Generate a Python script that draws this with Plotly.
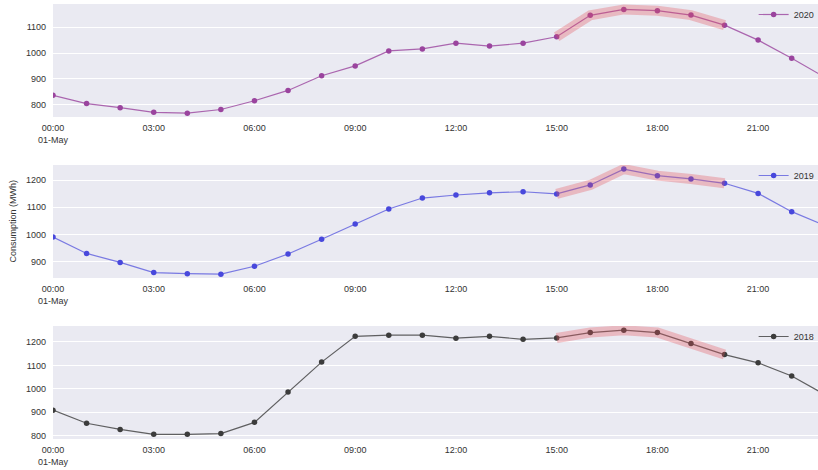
import plotly.graph_objects as go

hours = list(range(24))
vals_2020 = [836, 804, 788, 770, 767, 781, 815, 855, 912, 950, 1008, 1016, 1038, 1027, 1038, 1063,
             1146, 1169, 1164, 1147, 1108, 1050, 980, 905]
vals_2019 = [991, 931, 898, 861, 857, 855, 884, 929, 983, 1039, 1094, 1134, 1145, 1153, 1157, 1149,
             1182, 1240, 1216, 1204, 1188, 1151, 1084, 1033]
vals_2018 = [909, 853, 827, 806, 806, 809, 857, 987, 1114, 1224, 1229, 1229, 1216, 1224, 1211, 1217,
             1240, 1250, 1240, 1193, 1146, 1111, 1055, 974]
years = ["2020", "2019", "2018"]
series = [vals_2020, vals_2019, vals_2018]
colors = ["#9a449e", "#4848dc", "#3c3c3c"]
line_colors = ["rgba(154,68,158,0.8)", "rgba(72,72,220,0.7)", "rgba(60,60,60,0.8)"]
peak_start, peak_end = 15, 20
tick_hours = [0, 3, 6, 9, 12, 15, 18, 21]
tick_text = ["00:00<br>01-May", "03:00", "06:00", "09:00", "12:00", "15:00", "18:00", "21:00"]
y_ranges = [[752, 1190], [841, 1255], [786, 1268]]
y_ticks = [[800, 900, 1000, 1100], [900, 1000, 1100, 1200], [800, 900, 1000, 1100, 1200]]
y_label = "Consumption (MWh)"

W, H = 818, 470
panels_px = [(4, 117), (165, 278), (326, 439)]

fig = go.Figure()
layout = dict(width=W, height=H, margin=dict(l=0, r=0, t=0, b=0, autoexpand=False),
              paper_bgcolor="white", plot_bgcolor="#EAEAF2",
              font=dict(family="Arial, Liberation Sans, sans-serif", size=9, color="#333333"),
              showlegend=True)

for i, (yr, vals, col) in enumerate(zip(years, series, colors)):
    n = "" if i == 0 else str(i + 1)
    xa, ya = "x" + n, "y" + n
    xs = [f"{yr}-05-01 {h:02d}:00" for h in hours]
    leg = "legend" + n
    fig.add_trace(go.Scatter(x=xs, y=vals, mode="lines+markers", name=yr,
                             line=dict(color=line_colors[i], width=1.2),
                             marker=dict(color=col, size=5.5),
                             xaxis=xa, yaxis=ya, legend=leg))
    fig.add_trace(go.Scatter(x=xs[peak_start:peak_end + 1], y=vals[peak_start:peak_end + 1],
                             mode="lines", line=dict(color="rgba(228,80,90,0.32)", width=10),
                             showlegend=False, hoverinfo="skip", xaxis=xa, yaxis=ya))
    top, bot = panels_px[i]
    layout["xaxis" + n] = dict(domain=[53 / W, 1], anchor=ya,
                               range=[f"{yr}-05-01 00:00", f"{yr}-05-01 22:47"],
                               tickvals=[f"{yr}-05-01 {h:02d}:00" for h in tick_hours],
                               ticktext=tick_text, showgrid=False, zeroline=False,
                               ticks="", ticklabelstandoff=4, showline=False, automargin=False)
    layout["yaxis" + n] = dict(domain=[1 - bot / H, 1 - top / H], anchor=xa,
                               range=y_ranges[i], tickvals=y_ticks[i],
                               showgrid=True, gridcolor="white", gridwidth=1,
                               zeroline=False, ticks="", ticklabelstandoff=6, showline=False,
                               automargin=False)
    layout[leg] = dict(x=1.002, xanchor="right", y=min(1, 1 - (top - 4) / H), yanchor="top",
                       bgcolor="rgba(0,0,0,0)", font=dict(size=9, color="#333333"),
                       itemwidth=30)

fig.update_layout(**layout)
fig.add_annotation(text=y_label, xref="paper", yref="paper", x=12 / W,
                   y=1 - (165 + 278) / 2 / H, textangle=-90, showarrow=False,
                   font=dict(size=9, color="#333333"), xanchor="center", yanchor="middle")

fig.write_html("out.html", config={"displayModeBar": False},
               post_script="document.body.style.margin='0';document.body.style.overflow='hidden';")
